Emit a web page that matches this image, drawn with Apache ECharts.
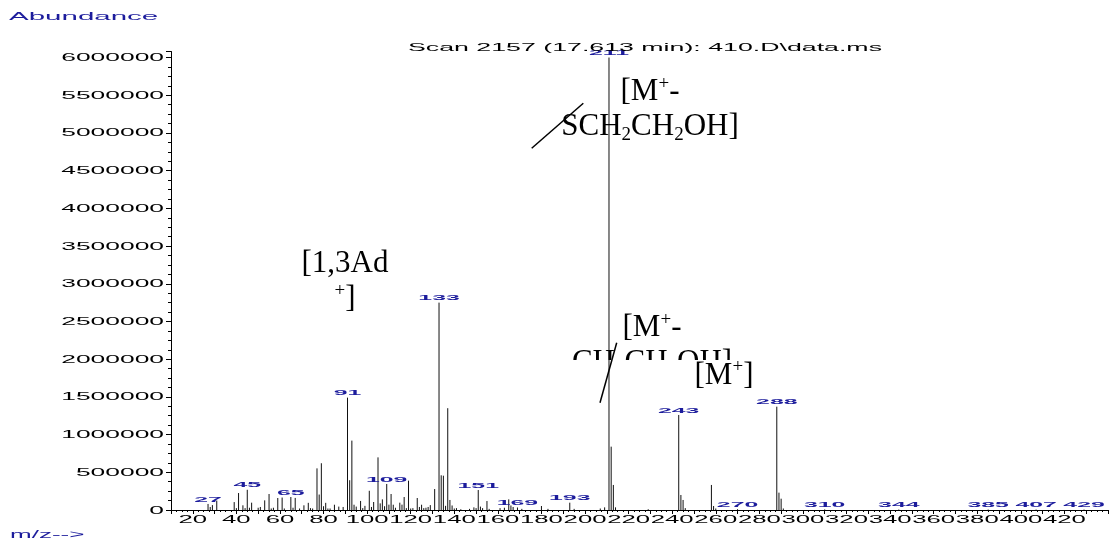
<!DOCTYPE html>
<html><head><meta charset="utf-8">
<script src="https://cdn.jsdelivr.net/npm/echarts@6/dist/echarts.min.js"></script>
<style>html,body{margin:0;padding:0;background:#fff}#c{width:1111px;height:540px}</style>
</head><body><div id="c"></div>
<script>
// ---- data ----
const peakMz = [27,28,29,31,39,40,41,43,44,45,46,47,50,51,53,55,56,57,59,61,62,65,66,67,69,71,73,74,75,77,78,79,80,81,82,83,85,87,89,91,92,93,94,95,97,98,99,101,102,103,105,106,107,108,109,110,111,112,113,115,116,117,118,119,120,121,123,124,125,126,127,128,129,131,133,134,135,136,137,138,139,140,141,143,147,149,150,151,152,153,155,156,161,163,165,166,167,169,171,180,183,193,195,207,209,211,212,213,214,229,243,244,245,246,258,259,260,270,288,289,290,291,310,344,385,407,429];
const peakAbund = [80000,40000,65000,125000,105000,25000,225000,62000,25000,268000,30000,97000,30000,40000,128000,212000,20000,30000,159000,165000,20000,172000,30000,160000,20000,62000,95000,25000,20000,552000,205000,620000,50000,95000,20000,20000,70000,45000,40000,1490000,395000,920000,70000,45000,120000,25000,55000,255000,40000,106000,698000,88000,141000,50000,345000,71000,212000,70000,30000,97000,71000,172000,25000,389000,20000,25000,159000,40000,70000,25000,30000,40000,65000,278000,2750000,460000,455000,55000,1350000,133000,60000,20000,25000,10000,15000,35000,25000,265000,45000,25000,119000,15000,25000,30000,141000,60000,40000,33000,15000,53000,15000,97000,15000,20000,35000,6000000,840000,332000,35000,10000,1260000,199000,133000,25000,332000,53000,20000,10000,1370000,230000,150000,20000,8000,6000,6000,6000,6000];
const labeledMz = [27,45,65,91,109,133,151,169,193,211,243,270,288,310,344,385,407,429];
const xTickLabels = [20,40,60,80,100,120,140,160,180,200,220,240,260,280,300,320,340,360,380,400,420];
const yTickLabels = [0,500000,1000000,1500000,2000000,2500000,3000000,3500000,4000000,4500000,5000000,5500000,6000000];
const titleText = 'Scan 2157 (17.613 min): 410.D\\data.ms';
const yAxisName = 'Abundance';
const xAxisName = 'm/z-->';

// ---- style ----
const SANS = '"Liberation Sans", Arial, sans-serif';
const SERIF = '"Liberation Serif", "Times New Roman", serif';
const BLUE = '#1c1c9c';

function txt(text, x, y, size, scaleX, color, align, vAlign, z) {
  return {type:'text', x:x, y:y, scaleX:scaleX, z:z||10, silent:true,
    style:{text:text, font:size+'px '+SANS, fill:color,
      align:align, textAlign:align, verticalAlign:vAlign, textVerticalAlign:vAlign}};
}
const richStyles = {
  n:{fontSize:31, fontFamily:SERIF, lineHeight:35, fill:'#000', textFill:'#000'},
  sup:{fontSize:19, fontFamily:SERIF, lineHeight:19, verticalAlign:'top', fill:'#000', textFill:'#000'},
  sub:{fontSize:19, fontFamily:SERIF, lineHeight:23, verticalAlign:'bottom', fill:'#000', textFill:'#000'}
};
function ann(text, x, y, z) {
  return {type:'text', x:x, y:y, z:z, silent:true,
    style:{text:text, rich:richStyles, font:'31px '+SERIF, fill:'#000',
      align:'center', textAlign:'center', verticalAlign:'top', textVerticalAlign:'top'}};
}

const peakData = peakMz.map((m, i) => [m, peakAbund[i]]);

const chart = echarts.init(document.getElementById('c'), null, {renderer:'canvas'});
chart.setOption({
  animation:false,
  backgroundColor:'#fff',
  grid:{left:171, right:3, top:51.5, bottom:30},
  xAxis:{type:'value', min:10, max:440, interval:10,
    axisLine:{show:true, lineStyle:{color:'#000', width:1}},
    axisTick:{show:true, length:4, lineStyle:{color:'#000'}},
    minorTick:{show:true, splitNumber:4, length:2, lineStyle:{color:'#000'}},
    axisLabel:{show:false}, splitLine:{show:false}},
  yAxis:{type:'value', min:0, max:6080000, interval:500000,
    axisLine:{show:true, lineStyle:{color:'#000', width:1}},
    axisTick:{show:true, length:5, lineStyle:{color:'#000'}},
    minorTick:{show:true, splitNumber:4, length:3, lineStyle:{color:'#000'}},
    axisLabel:{show:false}, splitLine:{show:false}},
  series:[
    {type:'custom', name:'peaks', data:peakData, clip:false, silent:true, z:3,
      encode:{x:0, y:1},
      renderItem:function(params, api){
        const mz = api.value(0), ab = api.value(1);
        const b = api.coord([mz, 0]), t = api.coord([mz, ab]);
        const ch = [{type:'line', shape:{x1:b[0], y1:b[1], x2:t[0], y2:t[1]},
          style:{stroke:'#111', lineWidth:1}}];
        if (labeledMz.indexOf(mz) >= 0) {
          ch.push({type:'text', x:t[0], y:t[1]-4.5, scaleX:3.1,
            style:{text:String(mz), font:'bold 8px '+SANS, fill:BLUE,
              align:'center', textAlign:'center', verticalAlign:'middle', textVerticalAlign:'middle'}});
        }
        return {type:'group', children:ch};
      }},
    {type:'custom', name:'xlabels', data:xTickLabels.map(v=>[v,0]), clip:false, silent:true,
      encode:{x:0, y:1},
      renderItem:function(params, api){
        const v = api.value(0); const p = api.coord([v, 0]);
        return {type:'text', x:p[0], y:p[1]+10.5, scaleX:2.57,
          style:{text:String(v), font:'10px '+SANS, fill:'#000',
            align:'center', textAlign:'center', verticalAlign:'middle', textVerticalAlign:'middle'}};
      }},
    {type:'custom', name:'ylabels', data:yTickLabels.map(v=>[10,v]), clip:false, silent:true,
      encode:{x:0, y:1},
      renderItem:function(params, api){
        const v = api.value(1); const p = api.coord([10, v]);
        return {type:'text', x:p[0]-7, y:p[1]+0.5, scaleX:2.4,
          style:{text:String(v), font:'11px '+SANS, fill:'#000',
            align:'right', textAlign:'right', verticalAlign:'middle', textVerticalAlign:'middle'}};
      }}
  ],
  graphic:{elements:[
    txt(yAxisName, 9, 17, 10, 2.95, BLUE, 'left', 'middle'),
    txt(xAxisName, 10, 535.5, 10, 2.6, BLUE, 'left', 'middle'),
    txt(titleText, 645, 47.5, 11, 2.43, '#000', 'center', 'middle'),
    ann('{n|[M}{sup|+}{n|-}\n{n|SCH}{sub|2}{n|CH}{sub|2}{n|OH]}', 650, 74.3, 10),
    ann('{n|[1,3Ad}\n{sup|+}{n|]}', 345, 246.3, 10),
    ann('{n|[M}{sup|+}{n|-}\n{n|CH}{sub|2}{n|CH}{sub|2}{n|OH]}', 652, 310.3, 0),
    {type:'rect', shape:{x:545, y:360, width:210, height:36}, style:{fill:'#fff'}, z:1, silent:true},
    ann('{n|[M}{sup|+}{n|]}', 724, 358, 10),
    {type:'line', shape:{x1:531.7, y1:148.3, x2:583.3, y2:103.3}, style:{stroke:'#000', lineWidth:1.5}, z:10, silent:true},
    {type:'line', shape:{x1:616.7, y1:342.7, x2:600, y2:402.7}, style:{stroke:'#000', lineWidth:1.5}, z:10, silent:true}
  ]}
});
</script></body></html>
